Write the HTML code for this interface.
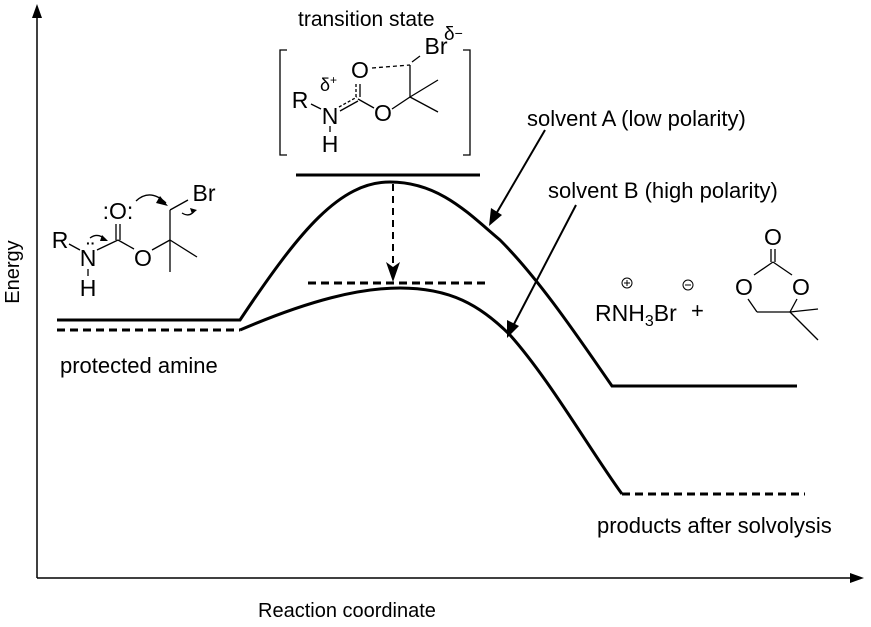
<!DOCTYPE html>
<html><head><style>
body{margin:0;background:#fff}
svg text{font-family:"Liberation Sans",Arial,sans-serif;fill:#000}
.a{text-anchor:middle;dominant-baseline:central;font-size:23px}
</style></head><body>
<svg width="871" height="622" viewBox="0 0 871 622" xmlns="http://www.w3.org/2000/svg">
<line x1="37" y1="578" x2="37" y2="14" stroke="#000" stroke-width="1.5"/>
<path d="M32,18 L37,4 L42,18 z"/>
<line x1="37" y1="578" x2="854" y2="578" stroke="#000" stroke-width="1.5"/>
<path d="M850,573 L864,578 L850,583 z"/>
<text x="19" y="272" font-size="20" transform="rotate(-90 19 272)" text-anchor="middle">Energy</text>
<text x="258" y="617" font-size="20">Reaction coordinate</text>
<path d="M57,320 L240,320 C300,230 340,182 390,182 C440,182 470,215 500,240 C540,280 580,340 612,386 L797,386" fill="none" stroke="#000" stroke-width="3"/>
<line x1="296" y1="175" x2="480" y2="175" stroke="#000" stroke-width="3"/>
<line x1="57" y1="330" x2="240" y2="330" stroke="#000" stroke-width="3" stroke-dasharray="8,5"/>
<path d="M240,330 C310,300 360,288 400,288 C450,288 480,305 510,335 C550,380 590,450 622,494" fill="none" stroke="#000" stroke-width="3"/>
<line x1="622" y1="494" x2="805" y2="494" stroke="#000" stroke-width="3" stroke-dasharray="8,5"/>
<line x1="308" y1="283" x2="490" y2="283" stroke="#000" stroke-width="3" stroke-dasharray="8,5"/>
<line x1="393" y1="184" x2="393" y2="270" stroke="#000" stroke-width="2" stroke-dasharray="7,5"/>
<path d="M386,262 L393,282 L400,262 L393,267 z"/>
<text x="527" y="126" font-size="22">solvent A (low polarity)</text>
<line x1="545" y1="130" x2="496" y2="214" stroke="#000" stroke-width="2"/>
<path d="M489,226 L491,208 L502,215 z"/>
<text x="548" y="198" font-size="22">solvent B (high polarity)</text>
<line x1="576" y1="205" x2="513" y2="326" stroke="#000" stroke-width="2"/>
<path d="M507,338 L507,320 L519,326 z"/>
<text x="60" y="373" font-size="22">protected amine</text>
<text x="597" y="533" font-size="22">products after solvolysis</text>
<g stroke="#000" stroke-width="1.3" fill="none">
<line x1="69" y1="244" x2="80" y2="250"/>
<line x1="97" y1="250" x2="118" y2="240"/>
<line x1="116" y1="240" x2="116" y2="224"/><line x1="120" y1="240" x2="120" y2="224"/>
<line x1="118" y1="240" x2="134" y2="249"/>
<line x1="152" y1="250" x2="170" y2="240"/>
<line x1="170" y1="240" x2="197" y2="257"/>
<line x1="170" y1="240" x2="170" y2="272"/>
<line x1="170" y1="240" x2="170" y2="210"/>
<line x1="170" y1="210" x2="188" y2="200"/>
<line x1="88" y1="269" x2="88" y2="276"/>
<path d="M136,201 Q150,188 166,203"/>
<path d="M182,213 Q190,218 195,210"/>
<path d="M90,238 Q98,232 106,240"/>
</g>
<path d="M160,196 L168,206 L156,203 z"/><path d="M190,208 L197,210 L192,214 z"/><path d="M102,235 L108,241 L100,241 z"/>
<text class="a" x="60" y="240">R</text>
<text class="a" x="88" y="258">N</text>
<text class="a" x="88" y="288">H</text>
<text class="a" x="118" y="211">:O:</text>
<text class="a" x="143" y="258">O</text>
<text class="a" x="204" y="193">Br</text>
<text x="86" y="248" font-size="14" font-weight="bold">··</text>
<text x="298" y="26" font-size="21">transition state</text>
<text x="444" y="40" font-size="19" font-family="Liberation Serif">δ<tspan font-size="14" dy="-2">−</tspan></text>
<g stroke="#000" stroke-width="1.3" fill="none">
<path d="M287,50 L280,50 L280,155 L287,155"/>
<path d="M463,50 L470,50 L470,155 L463,155"/>
<line x1="311" y1="104" x2="321" y2="109"/>
<line x1="339" y1="107" x2="357" y2="97" stroke-dasharray="3,2"/>
<line x1="340" y1="111" x2="358" y2="101"/>
<line x1="356" y1="97" x2="356" y2="84" stroke-dasharray="3,2"/>
<line x1="360" y1="97" x2="360" y2="84"/>
<line x1="358" y1="99" x2="374" y2="108"/>
<line x1="392" y1="109" x2="410" y2="97"/>
<line x1="410" y1="97" x2="438" y2="80"/>
<line x1="410" y1="97" x2="438" y2="112"/>
<line x1="410" y1="97" x2="410" y2="65"/>
<line x1="372" y1="68" x2="410" y2="65" stroke-dasharray="4,3"/>
<line x1="412" y1="62" x2="420" y2="56"/>
<line x1="330" y1="126" x2="330" y2="132"/>
</g>
<text class="a" x="300" y="100">R</text>
<text class="a" x="330" y="116">N</text>
<text class="a" x="330" y="144">H</text>
<text class="a" x="360" y="70">O</text>
<text class="a" x="383" y="113">O</text>
<text class="a" x="436" y="46">Br</text>
<text x="320" y="91" font-size="18" font-family="Liberation Serif">δ<tspan font-size="12" dy="-7">+</tspan></text>
<text x="595" y="321" font-size="23">RNH<tspan font-size="16" dy="5">3</tspan><tspan dy="-5">Br</tspan></text>
<circle cx="627" cy="283" r="5" fill="none" stroke="#000" stroke-width="1"/><line x1="624" y1="283" x2="630" y2="283" stroke="#000"/><line x1="627" y1="280" x2="627" y2="286" stroke="#000"/>
<circle cx="688" cy="285" r="5" fill="none" stroke="#000" stroke-width="1"/><line x1="685" y1="285" x2="691" y2="285" stroke="#000"/>
<text x="691" y="318" font-size="22">+</text>
<g stroke="#000" stroke-width="1.3" fill="none">
<line x1="771" y1="249" x2="771" y2="262"/><line x1="775" y1="249" x2="775" y2="262"/>
<line x1="773" y1="262" x2="754" y2="275"/>
<line x1="773" y1="262" x2="792" y2="275"/>
<line x1="748" y1="299" x2="757" y2="312"/>
<line x1="757" y1="312" x2="790" y2="312"/>
<line x1="790" y1="312" x2="797" y2="299"/>
<line x1="790" y1="312" x2="818" y2="309"/>
<line x1="790" y1="312" x2="818" y2="340"/>
</g>
<text class="a" x="773" y="237">O</text>
<text class="a" x="744" y="287">O</text>
<text class="a" x="801" y="287">O</text>
</svg>
</body></html>
